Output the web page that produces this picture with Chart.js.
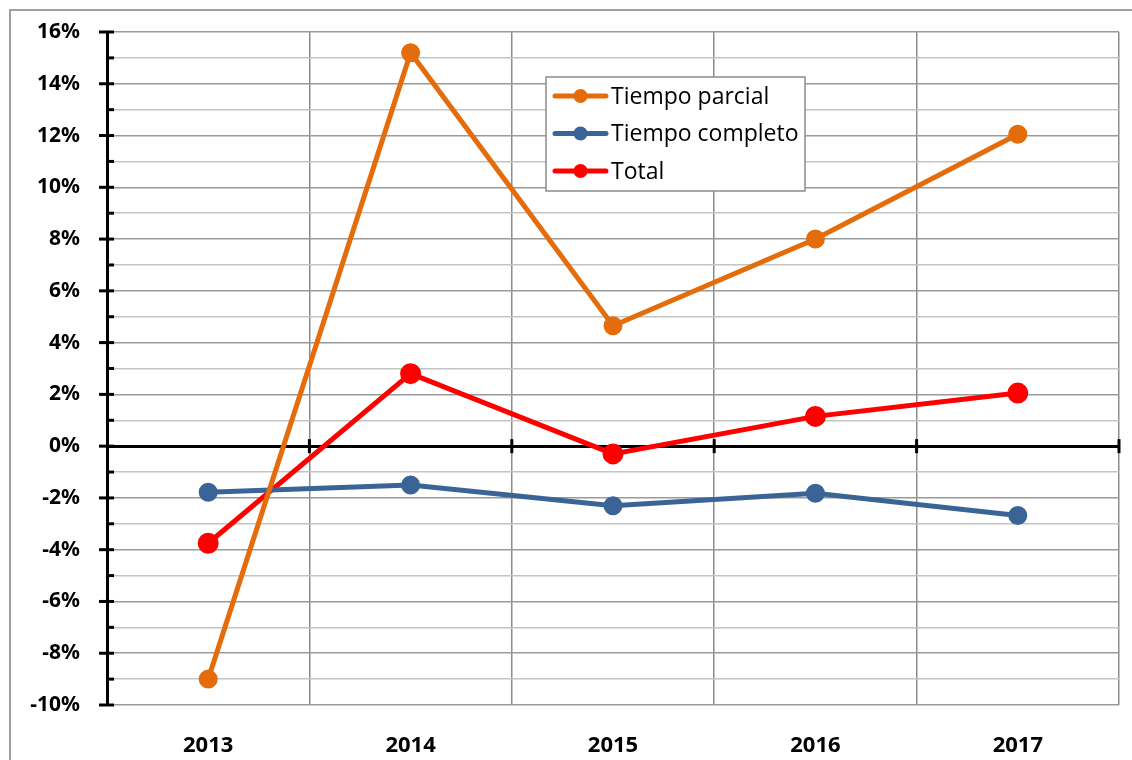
<!DOCTYPE html>
<html>
<head>
<meta charset="utf-8">
<script src="https://cdn.jsdelivr.net/npm/chart.js@4"></script>
<style>
  html, body { margin: 0; padding: 0; background: #fff; }
  #wrap { width: 1132px; height: 760px; }
</style>
</head>
<body>
<div id="wrap"><canvas id="lineChart" width="1132" height="760"></canvas></div>
<script>
// Data (percent change per year)
const years = ["2013", "2014", "2015", "2016", "2017"];
const tiempoParcial = [-9.0, 15.2, 4.65, 8.0, 12.05];
const tiempoCompleto = [-1.78, -1.5, -2.3, -1.82, -2.68];
const total = [-3.75, 2.8, -0.3, 1.15, 2.05];
const yTicks = [-10, -8, -6, -4, -2, 0, 2, 4, 6, 8, 10, 12, 14, 16];

const FONT = "'Noto Sans', 'Open Sans', sans-serif";

// outer frame plus the axis tick marks
const extras = {
    id: "extras",
    beforeDraw(chart) {
        const c = chart.ctx;
        c.save();
        c.strokeStyle = "#a0a0a0";
        c.lineWidth = 2;
        c.beginPath();
        c.moveTo(10, 760);
        c.lineTo(10, 10);
        c.lineTo(1132, 10);
        c.stroke();
        c.restore();
    },
    beforeDatasetsDraw(chart) {
        const c = chart.ctx;
        const y = chart.scales.y;
        const x = chart.scales.x;
        const left = chart.chartArea.left;
        c.save();
        c.strokeStyle = "#000";
        c.lineWidth = 3;
        // y ticks: major every 2%, minor on odd values
        for (let v = -10; v <= 16; v++) {
            const py = y.getPixelForValue(v);
            c.beginPath();
            if (v % 2 === 0) {
                c.moveTo(left - 8, py);
            } else {
                c.moveTo(left, py);
            }
            c.lineTo(left + 7, py);
            c.stroke();
        }
        // tick marks on the zero line between categories
        const y0 = y.getPixelForValue(0);
        for (let i = 0; i < years.length; i++) {
            const px = x.getPixelForValue(i) + (x.getPixelForValue(1) - x.getPixelForValue(0)) / 2;
            c.beginPath();
            c.moveTo(px, y0 - 7);
            c.lineTo(px, y0 + 7);
            c.stroke();
        }
        c.restore();
    }
};

const ctx = document.getElementById("lineChart").getContext("2d");
const lineChart = new Chart(ctx, {
    type: "line",
    data: {
        labels: years,
        datasets: [{
            label: "Tiempo parcial",
            data: tiempoParcial,
            borderColor: "#E46C0A",
            backgroundColor: "#E46C0A",
            borderWidth: 5,
            pointRadius: 7,
            fill: false
        }, {
            label: "Tiempo completo",
            data: tiempoCompleto,
            borderColor: "#3A6496",
            backgroundColor: "#3A6496",
            borderWidth: 5,
            pointRadius: 7,
            fill: false
        }, {
            label: "Total",
            data: total,
            borderColor: "#FF0000",
            backgroundColor: "#FF0000",
            borderWidth: 5,
            pointRadius: 8,
            fill: false
        }]
    },
    options: {
        responsive: false,
        animation: false,
        layout: {
            padding: { left: 0, top: 32, right: 11, bottom: 0 }
        },
        plugins: {
            legend: { display: false },
            tooltip: { enabled: false }
        },
        scales: {
            x: {
                offset: true,
                grid: {
                    offset: true,
                    color: "#8c8c8c",
                    lineWidth: 1.5,
                    drawTicks: false
                },
                border: { display: false },
                ticks: {
                    color: "#000",
                    padding: 28,
                    font: { family: FONT, size: 22, weight: "bold" }
                },
                afterFit(scale) {
                    scale.height = 55;
                    scale.paddingLeft = 0;
                    scale.paddingRight = 0;
                }
            },
            y: {
                min: -10,
                max: 16,
                afterBuildTicks(scale) {
                    const t = [];
                    for (let v = -10; v <= 16; v++) t.push({ value: v });
                    scale.ticks = t;
                },
                grid: {
                    drawTicks: false,
                    color: (c) => c.tick.value === 0 ? "#000" : (c.tick.value % 2 === 0 ? "#9a9a9a" : "#c4c4c4"),
                    lineWidth: (c) => c.tick.value === 0 ? 3 : 1.5
                },
                border: { color: "#000", width: 3 },
                ticks: {
                    color: "#000",
                    padding: 27,
                    autoSkip: false,
                    font: { family: FONT, size: 21, weight: "bold" },
                    callback: (v) => yTicks.includes(v) ? v + "%" : ""
                },
                afterFit(scale) {
                    scale.width = 107;
                    scale.paddingTop = 0;
                    scale.paddingBottom = 0;
                }
            }
        }
    },
    plugins: [extras, {
        id: "boxLegend",
        afterDraw(chart) {
            // legend box drawn by hand to match the framed legend
            const c = chart.ctx;
            const sets = chart.data.datasets;
            c.save();
            c.fillStyle = "#fff";
            c.fillRect(546, 77, 259, 114);
            c.strokeStyle = "#8c8c8c";
            c.lineWidth = 1.5;
            c.strokeRect(546, 77, 259, 114);
            c.font = "23px 'Open Sans', sans-serif";
            c.textBaseline = "middle";
            sets.forEach((ds, i) => {
                const cy = 96 + i * 37.5;
                c.strokeStyle = ds.borderColor;
                c.fillStyle = ds.borderColor;
                c.lineWidth = 5;
                c.lineCap = "round";
                c.beginPath();
                c.moveTo(555, cy);
                c.lineTo(606, cy);
                c.stroke();
                c.beginPath();
                c.arc(580.5, cy, 7, 0, Math.PI * 2);
                c.fill();
                c.fillStyle = "#000";
                c.fillText(ds.label, 611, cy + 1);
            });
            c.restore();
        }
    }]
});
</script>
</body>
</html>
